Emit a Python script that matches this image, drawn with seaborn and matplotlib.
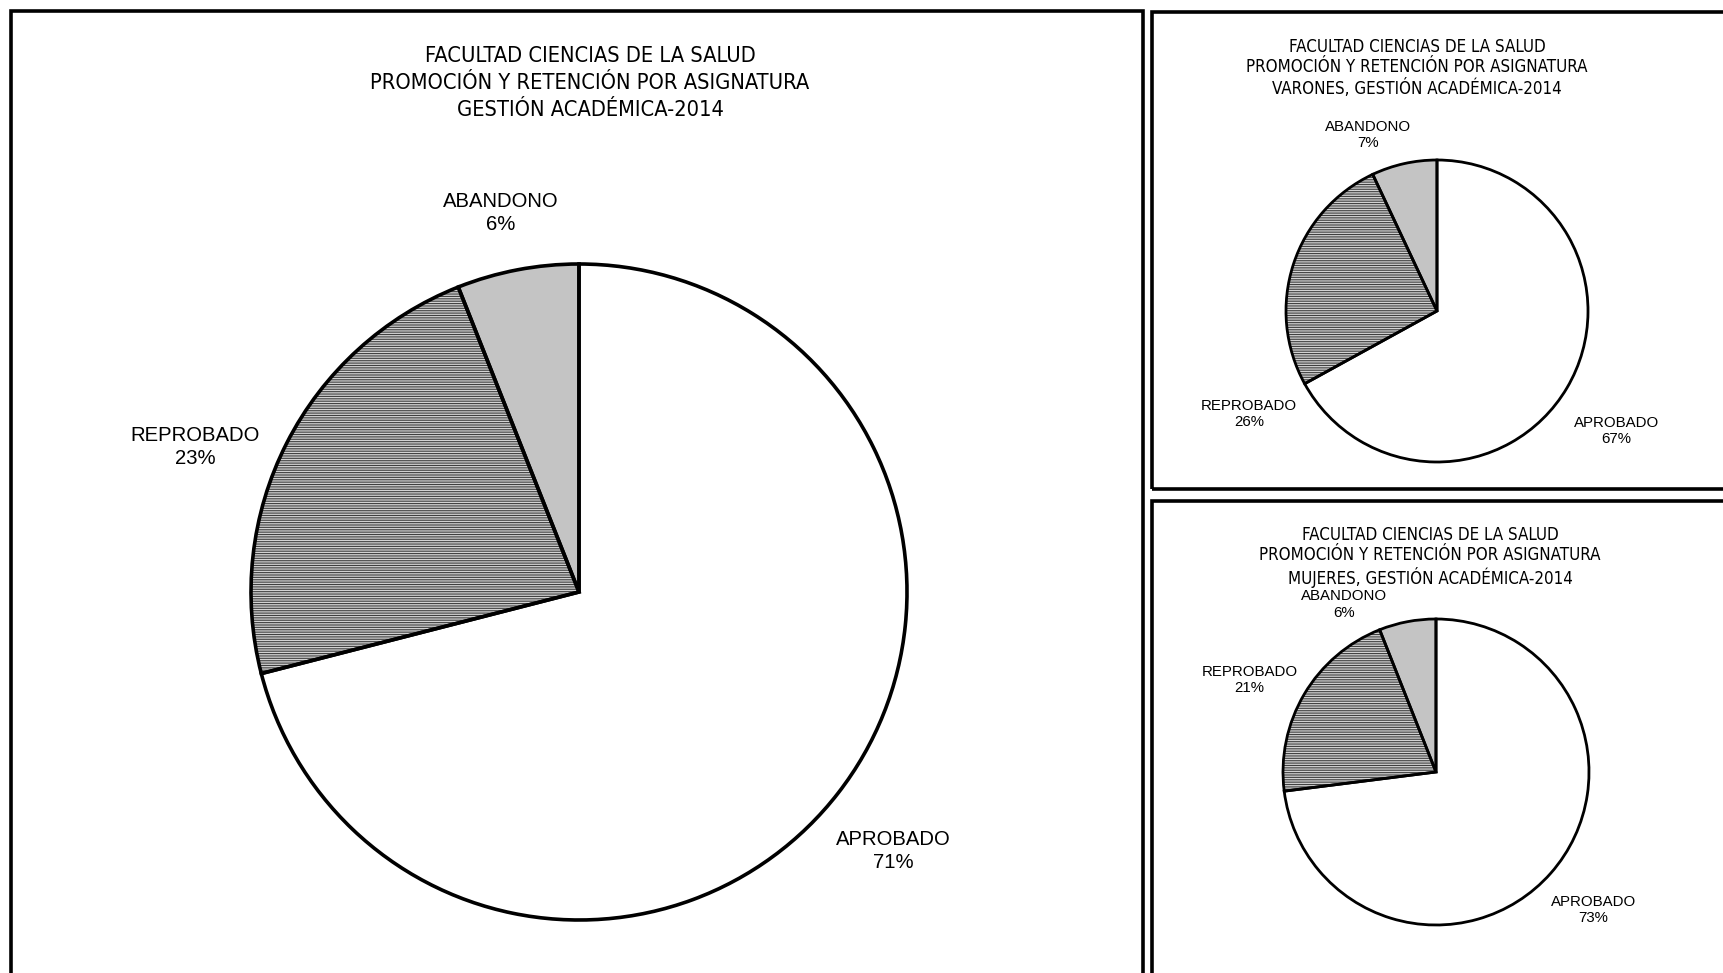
import matplotlib
matplotlib.use("Agg")
import matplotlib.pyplot as plt
import numpy as np
import seaborn as sns
from matplotlib.patches import Rectangle

# data (percent of students)
categories = ["APROBADO", "REPROBADO", "ABANDONO"]
total_pct = [71, 23, 6]
varones_pct = [67, 26, 7]
mujeres_pct = [73, 21, 6]

title_total = "FACULTAD CIENCIAS DE LA SALUD\nPROMOCIÓN Y RETENCIÓN POR ASIGNATURA\nGESTIÓN ACADÉMICA-2014"
title_varones = "FACULTAD CIENCIAS DE LA SALUD\nPROMOCIÓN Y RETENCIÓN POR ASIGNATURA\nVARONES, GESTIÓN ACADÉMICA-2014"
title_mujeres = "FACULTAD CIENCIAS DE LA SALUD\nPROMOCIÓN Y RETENCIÓN POR ASIGNATURA\nMUJERES, GESTIÓN ACADÉMICA-2014"

W, H = 1724, 973
FILLS = ["white", "#d2d2d2", "#c4c4c4"]
HATCHES = ["", "-------", ""]

sns.set_style("white")
plt.rcParams["hatch.linewidth"] = 0.8

fig = plt.figure(figsize=(W / 100, H / 100), dpi=100)
fig.patch.set_facecolor("white")


def frame(x0, y0, x1, y1, lw=2.6):
    # panel border, pixel coords from top-left
    r = Rectangle((x0 / W, 1 - y1 / H), (x1 - x0) / W, (y1 - y0) / H,
                  transform=fig.transFigure, fill=False, edgecolor="black",
                  linewidth=lw, clip_on=False)
    fig.add_artist(r)


def pie_panel(values, cx, cy, r, lw, label_layout, fs, ls):
    ax = fig.add_axes([(cx - r) / W, 1 - (cy + r) / H, 2 * r / W, 2 * r / H])
    ax.pie(values, startangle=90, counterclock=False, colors=FILLS,
           hatch=HATCHES, wedgeprops=dict(edgecolor="#404040", linewidth=0))
    ax.pie(values, startangle=90, counterclock=False, colors=["none"] * 3,
           wedgeprops=dict(edgecolor="black", linewidth=lw))
    ax.set_xlim(-1, 1)
    ax.set_ylim(-1, 1)
    ax.set_aspect("auto")
    ax.axis("off")
    for name, v, (ang, dist) in zip(categories, values, label_layout):
        a = np.deg2rad(ang)
        ax.text(dist * np.cos(a), dist * np.sin(a), f"{name}\n{v}%",
                ha="center", va="center", fontsize=fs, color="black",
                family="Liberation Sans", linespacing=ls)
    return ax


def title(txt, x, y, fs, ls):
    fig.text(x / W, 1 - y / H, txt, ha="center", va="center", fontsize=fs,
             color="black", family="DejaVu Sans", fontstretch="condensed",
             linespacing=ls)


frame(11, 11, 1143, 1010)
frame(1152, 12, 1760, 489)
frame(1152, 501, 1760, 1010)

pie_panel(total_pct, 579, 592, 328, 2.6,
          [(-39.5, 1.24), (159.3, 1.25), (101.7, 1.18)], 14.6, 1.25)
pie_panel(varones_pct, 1437, 311, 151, 2.0,
          [(-33.8, 1.43), (-151.3, 1.42), (111.5, 1.25)], 10.8, 1.2)
pie_panel(mujeres_pct, 1436, 772, 153, 2.0,
          [(-41.3, 1.37), (153.7, 1.36), (118.8, 1.25)], 10.8, 1.2)

title(title_total, 590, 83, 15.7, 1.42)
title(title_varones, 1417, 68, 12.2, 1.15)
title(title_mujeres, 1430, 557, 12.2, 1.15)

fig.savefig("out.png", dpi=100, facecolor="white")
